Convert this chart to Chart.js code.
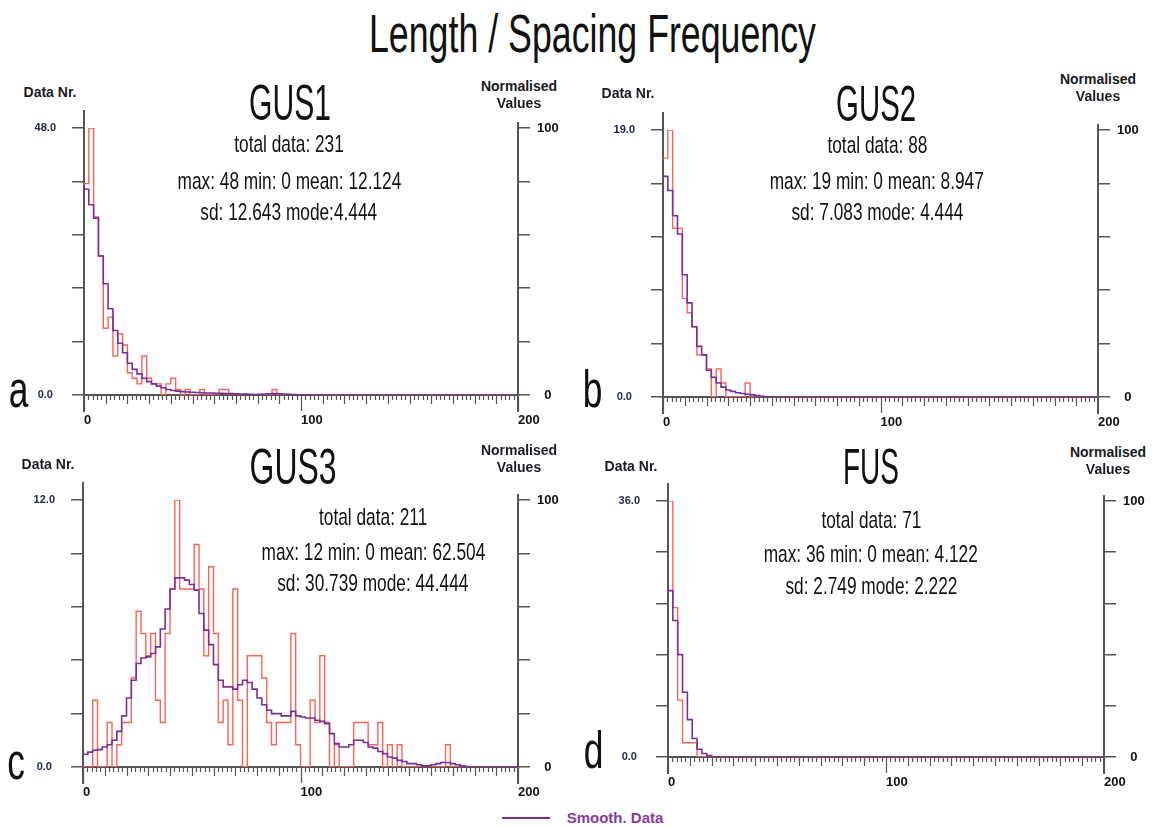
<!DOCTYPE html>
<html>
<head>
<meta charset="utf-8">
<script src="https://cdn.jsdelivr.net/npm/chart.js@4.4.0/dist/chart.umd.min.js"></script>
<style>
  body { margin: 0; background: #fff; width: 1155px; height: 827px; overflow: hidden; position: relative; font-family: "Liberation Sans", Arial, sans-serif; }
  canvas { position: absolute; }
  .txt { position: absolute; white-space: nowrap; line-height: 1; color: #111; transform-origin: center center; }
</style>
</head>
<body>
<script>
// bins: 90 classes of 200/90 over 0..200
const binWidth = 200 / 90;
const xMin = 0;
const xMax = 200;

const gus1Raw = [
  38, 48, 32, 25, 12, 14, 7, 11, 9, 4,
  3, 2, 7, 3, 2, 2, 0, 2, 3, 1,
  0, 1, 0, 0, 1, 0, 0, 0, 1, 1,
  0, 0, 0, 0, 0, 0, 0, 0, 0, 1,
  0, 0, 0, 0, 0, 0, 0, 0, 0, 0,
  0, 0, 0, 0, 0, 0, 0, 0, 0, 0,
  0, 0, 0, 0, 0, 0, 0, 0, 0, 0,
  0, 0, 0, 0, 0, 0, 0, 0, 0, 0,
  0, 0, 0, 0, 0, 0, 0, 0, 0, 0
];
const gus1Smooth = [
  37, 34.2, 31.8, 25, 20, 15.5, 11.6, 9.3, 7.6, 5.7,
  4.6, 3.8, 3, 2.4, 2, 1.6, 1.3, 1, 0.8, 0.7,
  0.6, 0.55, 0.5, 0.45, 0.4, 0.35, 0.35, 0.3, 0.3, 0.28,
  0.25, 0.2, 0.18, 0.15, 0.12, 0.1, 0.12, 0.18, 0.22, 0.25,
  0.22, 0.18, 0.12, 0.08, 0.05, 0.03, 0.02, 0.01, 0, 0,
  0, 0, 0, 0, 0, 0, 0, 0, 0, 0,
  0, 0, 0, 0, 0, 0, 0, 0, 0, 0,
  0, 0, 0, 0, 0, 0, 0, 0, 0, 0,
  0, 0, 0, 0, 0, 0, 0, 0, 0, 0
];

const gus2Raw = [
  17, 19, 12, 12, 7, 6, 5, 3, 3, 2,
  0, 2, 1, 0, 0, 0, 0, 1, 0, 0,
  0, 0, 0, 0, 0, 0, 0, 0, 0, 0,
  0, 0, 0, 0, 0, 0, 0, 0, 0, 0,
  0, 0, 0, 0, 0, 0, 0, 0, 0, 0,
  0, 0, 0, 0, 0, 0, 0, 0, 0, 0,
  0, 0, 0, 0, 0, 0, 0, 0, 0, 0,
  0, 0, 0, 0, 0, 0, 0, 0, 0, 0,
  0, 0, 0, 0, 0, 0, 0, 0, 0, 0
];
const gus2Smooth = [
  15.7, 14.7, 12.9, 11.6, 8.7, 6.7, 5, 3.6, 3, 1.9,
  1.4, 1, 0.7, 0.5, 0.4, 0.3, 0.25, 0.2, 0.15, 0.1,
  0.05, 0.02, 0, 0, 0, 0, 0, 0, 0, 0,
  0, 0, 0, 0, 0, 0, 0, 0, 0, 0,
  0, 0, 0, 0, 0, 0, 0, 0, 0, 0,
  0, 0, 0, 0, 0, 0, 0, 0, 0, 0,
  0, 0, 0, 0, 0, 0, 0, 0, 0, 0,
  0, 0, 0, 0, 0, 0, 0, 0, 0, 0,
  0, 0, 0, 0, 0, 0, 0, 0, 0, 0
];

const gus3Raw = [
  0, 0, 3, 0, 0, 2, 0, 1, 2, 2,
  4, 7, 6, 5, 6, 3, 2, 6, 8, 12,
  8, 8, 8, 10, 8, 5, 9, 6, 2, 3,
  1, 8, 3, 0, 5, 5, 5, 4, 2, 1,
  2, 2, 2, 6, 1, 0, 0, 3, 2, 5,
  2, 0, 1, 0, 0, 0, 2, 2, 2, 1,
  1, 2, 0, 1, 0, 1, 0, 0, 0, 0,
  0, 0, 0, 0, 0, 1, 0, 0, 0, 0,
  0, 0, 0, 0, 0, 0, 0, 0, 0, 0
];
const gus3Smooth = [
  0.57, 0.67, 0.75, 0.78, 0.9, 1, 1.2, 1.6, 2.3, 3.1,
  3.9, 4.65, 4.9, 4.95, 5.1, 5.4, 6.2, 7.1, 8, 8.5,
  8.5, 8.4, 8.2, 7.95, 6.9, 6.15, 5.5, 4.6, 3.9, 3.6,
  3.6, 3.5, 3.7, 3.9, 3.8, 3.5, 3.1, 2.8, 2.55, 2.4,
  2.4, 2.3, 2.3, 2.5, 2.3, 2.25, 2.2, 2.2, 2.1, 2.05,
  1.95, 1.5, 1.05, 0.9, 0.9, 1, 1.2, 1.2, 1.1, 0.9,
  0.85, 0.7, 0.6, 0.45, 0.4, 0.3, 0.25, 0.15, 0.15, 0.1,
  0.05, 0.05, 0.1, 0.15, 0.2, 0.2, 0.15, 0.1, 0.05, 0.02,
  0, 0, 0, 0, 0, 0, 0, 0, 0, 0
];

const fusRaw = [
  36, 21, 8, 2, 2, 2, 0, 0, 0, 0,
  0, 0, 0, 0, 0, 0, 0, 0, 0, 0,
  0, 0, 0, 0, 0, 0, 0, 0, 0, 0,
  0, 0, 0, 0, 0, 0, 0, 0, 0, 0,
  0, 0, 0, 0, 0, 0, 0, 0, 0, 0,
  0, 0, 0, 0, 0, 0, 0, 0, 0, 0,
  0, 0, 0, 0, 0, 0, 0, 0, 0, 0,
  0, 0, 0, 0, 0, 0, 0, 0, 0, 0,
  0, 0, 0, 0, 0, 0, 0, 0, 0, 0
];
const fusSmooth = [
  23.4, 19.2, 14.4, 9.1, 5.25, 2.6, 1.1, 0.5, 0.2, 0,
  0, 0, 0, 0, 0, 0, 0, 0, 0, 0,
  0, 0, 0, 0, 0, 0, 0, 0, 0, 0,
  0, 0, 0, 0, 0, 0, 0, 0, 0, 0,
  0, 0, 0, 0, 0, 0, 0, 0, 0, 0,
  0, 0, 0, 0, 0, 0, 0, 0, 0, 0,
  0, 0, 0, 0, 0, 0, 0, 0, 0, 0,
  0, 0, 0, 0, 0, 0, 0, 0, 0, 0,
  0, 0, 0, 0, 0, 0, 0, 0, 0, 0
];

const panelNames = ['GUS1', 'GUS2', 'GUS3', 'FUS'];
const panelLetters = ['a', 'b', 'c', 'd'];
const panelMax = [48, 19, 12, 36];
const normMax = 100;
const gus1Stats = ['total data: 231', 'max: 48 min: 0 mean: 12.124', 'sd: 12.643 mode:4.444'];
const gus2Stats = ['total data: 88', 'max: 19 min: 0 mean: 8.947', 'sd: 7.083 mode: 4.444'];
const gus3Stats = ['total data: 211', 'max: 12 min: 0 mean: 62.504', 'sd: 30.739 mode: 44.444'];
const fusStats = ['total data: 71', 'max: 36 min: 0 mean: 4.122', 'sd: 2.749 mode: 2.222'];

const red = '#ff6256';
const purple = '#7a2f97';
const axisColor = '#555555';
const fontFamily = '"Liberation Sans", Arial, sans-serif';

// left edges of the bins + closing point, drawn as steps
function steps(values) {
  const pts = values.map((v, i) => ({ x: i * binWidth, y: v }));
  pts.push({ x: values.length * binWidth, y: values[values.length - 1] });
  return pts;
}

// axis lines (a bit longer than the plot) and the 2/10/100 ticks of the x axis
const axisLines = {
  id: 'axisLines',
  beforeDatasetsDraw(chart) {
    const { ctx, chartArea: a, scales } = chart;
    const x = scales.x;
    ctx.save();
    ctx.strokeStyle = axisColor;
    ctx.lineWidth = 2;
    ctx.beginPath();
    ctx.moveTo(a.left, a.top - 18);
    ctx.lineTo(a.left, a.bottom + 17);
    ctx.moveTo(a.right, a.top - 6);
    ctx.lineTo(a.right, a.bottom + 17);
    ctx.moveTo(a.left, a.bottom);
    ctx.lineTo(a.right, a.bottom);
    ctx.stroke();
    ctx.lineWidth = 1.2;
    ctx.beginPath();
    for (let v = xMin; v <= xMax; v += 2) {
      const px = Math.round(x.getPixelForValue(v)) + 0.5;
      const len = v % 100 === 0 ? 16 : (v % 10 === 0 ? 9 : 5);
      ctx.moveTo(px, a.bottom);
      ctx.lineTo(px, a.bottom + len);
    }
    ctx.stroke();
    ctx.restore();
  }
};

function drawPanel(box, raw, smooth, maxVal) {
  const padL = 90, padR = 60, padT = 25, padB = 40;
  const canvas = document.createElement('canvas');
  canvas.width = box.r - box.l + padL + padR;
  canvas.height = box.b - box.t + padT + padB;
  canvas.style.left = (box.l - padL) + 'px';
  canvas.style.top = (box.t - padT) + 'px';
  document.body.appendChild(canvas);

  new Chart(canvas.getContext('2d'), {
    type: 'line',
    data: {
      datasets: [
        { label: 'Smooth. Data', data: steps(smooth), borderColor: purple, borderWidth: 1.6, stepped: 'before', pointRadius: 0, fill: false, yAxisID: 'y' },
        { label: 'Data', data: steps(raw), borderColor: red, borderWidth: 1.4, stepped: 'before', pointRadius: 0, fill: false, yAxisID: 'y' }
      ]
    },
    options: {
      responsive: false,
      animation: false,
      devicePixelRatio: 1,
      layout: { padding: { top: padT, left: 0, right: 0, bottom: 0 } },
      plugins: { legend: { display: false }, tooltip: { enabled: false } },
      scales: {
        x: {
          type: 'linear', min: xMin, max: xMax, position: 'bottom',
          afterFit: s => { s.height = padB; },
          grid: { display: false, drawTicks: false },
          border: { display: false },
          ticks: { stepSize: 100, align: 'start', padding: 18, color: '#111', font: { family: fontFamily, size: 13, weight: 'bold' } }
        },
        y: {
          min: 0, max: maxVal, position: 'left',
          afterFit: s => { s.width = padL; },
          grid: { drawOnChartArea: false, tickLength: 12, color: axisColor, lineWidth: 1.5 },
          border: { display: false },
          ticks: {
            count: 6, padding: 16, crossAlign: 'center', color: '#222a48',
            font: { family: fontFamily, size: 11, weight: 'bold' },
            callback: (v, i, t) => (i === 0 || i === t.length - 1) ? v.toFixed(1) : ''
          }
        },
        y2: {
          min: 0, max: normMax, position: 'right',
          afterFit: s => { s.width = padR; },
          grid: { drawOnChartArea: false, tickLength: 12, color: axisColor, lineWidth: 1.5 },
          border: { display: false },
          ticks: {
            stepSize: 20, padding: 7, crossAlign: 'center', color: '#111',
            font: { family: fontFamily, size: 13, weight: 'bold' },
            callback: v => (v === 0 || v === normMax) ? String(v) : ''
          }
        }
      }
    },
    plugins: [axisLines]
  });
}

function addText(str, cx, base, size, opts) {
  const el = document.createElement('div');
  el.className = 'txt';
  el.textContent = str;
  el.style.fontSize = size + 'px';
  el.style.fontWeight = opts.bold ? 'bold' : 'normal';
  if (opts.color) el.style.color = opts.color;
  document.body.appendChild(el);
  const w = el.getBoundingClientRect().width;
  const sx = opts.width ? opts.width / w : (opts.scaleX || 1);
  el.style.left = (cx - w / 2) + 'px';
  el.style.top = (base - size * 0.8465) + 'px';
  el.style.transform = 'scaleX(' + sx + ')';
}

// plot boxes (page pixels)
const boxes = [
  { l: 84, t: 128, r: 518, b: 395 },
  { l: 663, t: 130, r: 1098, b: 397 },
  { l: 83, t: 500, r: 518, b: 767 },
  { l: 668, t: 501, r: 1104, b: 757 }
];
const raws = [gus1Raw, gus2Raw, gus3Raw, fusRaw];
const smooths = [gus1Smooth, gus2Smooth, gus3Smooth, fusSmooth];
const stats = [gus1Stats, gus2Stats, gus3Stats, fusStats];

boxes.forEach((box, i) => drawPanel(box, raws[i], smooths[i], panelMax[i]));

addText('Length / Spacing Frequency', 592, 52, 53, { width: 447 });

const headPos = [
  { cx: 290, base: 120, w: 82 },
  { cx: 876, base: 121, w: 80 },
  { cx: 293, base: 484, w: 87 },
  { cx: 871, base: 484, w: 56 }
];
const statPos = [
  { cx: 289, base: [152, 189, 220] },
  { cx: 877, base: [153, 189, 220] },
  { cx: 373, base: [525, 560, 591] },
  { cx: 871, base: [528, 562, 594] }
];
const letterPos = [
  { cx: 18, base: 407 }, { cx: 592, base: 407 },
  { cx: 16, base: 779 }, { cx: 593, base: 768 }
];
const dataNrPos = [
  { cx: 50, base: 97 }, { cx: 628, base: 98 },
  { cx: 48, base: 469 }, { cx: 631, base: 471 }
];
const normPos = [
  { cx: 519, base: [91, 108] }, { cx: 1098, base: [84, 101] },
  { cx: 519, base: [455, 472] }, { cx: 1108, base: [457, 474] }
];

panelNames.forEach((name, i) => {
  addText(name, headPos[i].cx, headPos[i].base, 50, { width: headPos[i].w });
  stats[i].forEach((s, j) => addText(s, statPos[i].cx, statPos[i].base[j], 24, { scaleX: 0.72 }));
  addText(panelLetters[i], letterPos[i].cx, letterPos[i].base, 52, { scaleX: 0.68 });
  addText('Data Nr.', dataNrPos[i].cx, dataNrPos[i].base, 14, { bold: true, color: '#1a1a22' });
  addText('Normalised', normPos[i].cx, normPos[i].base[0], 14, { bold: true, color: '#1a1a22' });
  addText('Values', normPos[i].cx, normPos[i].base[1], 14, { bold: true, color: '#1a1a22' });
});

// legend
const legendLine = document.createElement('div');
legendLine.style.cssText = 'position:absolute;left:502px;top:817px;width:48px;height:2px;background:' + purple + ';';
document.body.appendChild(legendLine);
addText('Smooth. Data', 615, 823, 15, { bold: true, color: '#873a9c' });
</script>
</body>
</html>
